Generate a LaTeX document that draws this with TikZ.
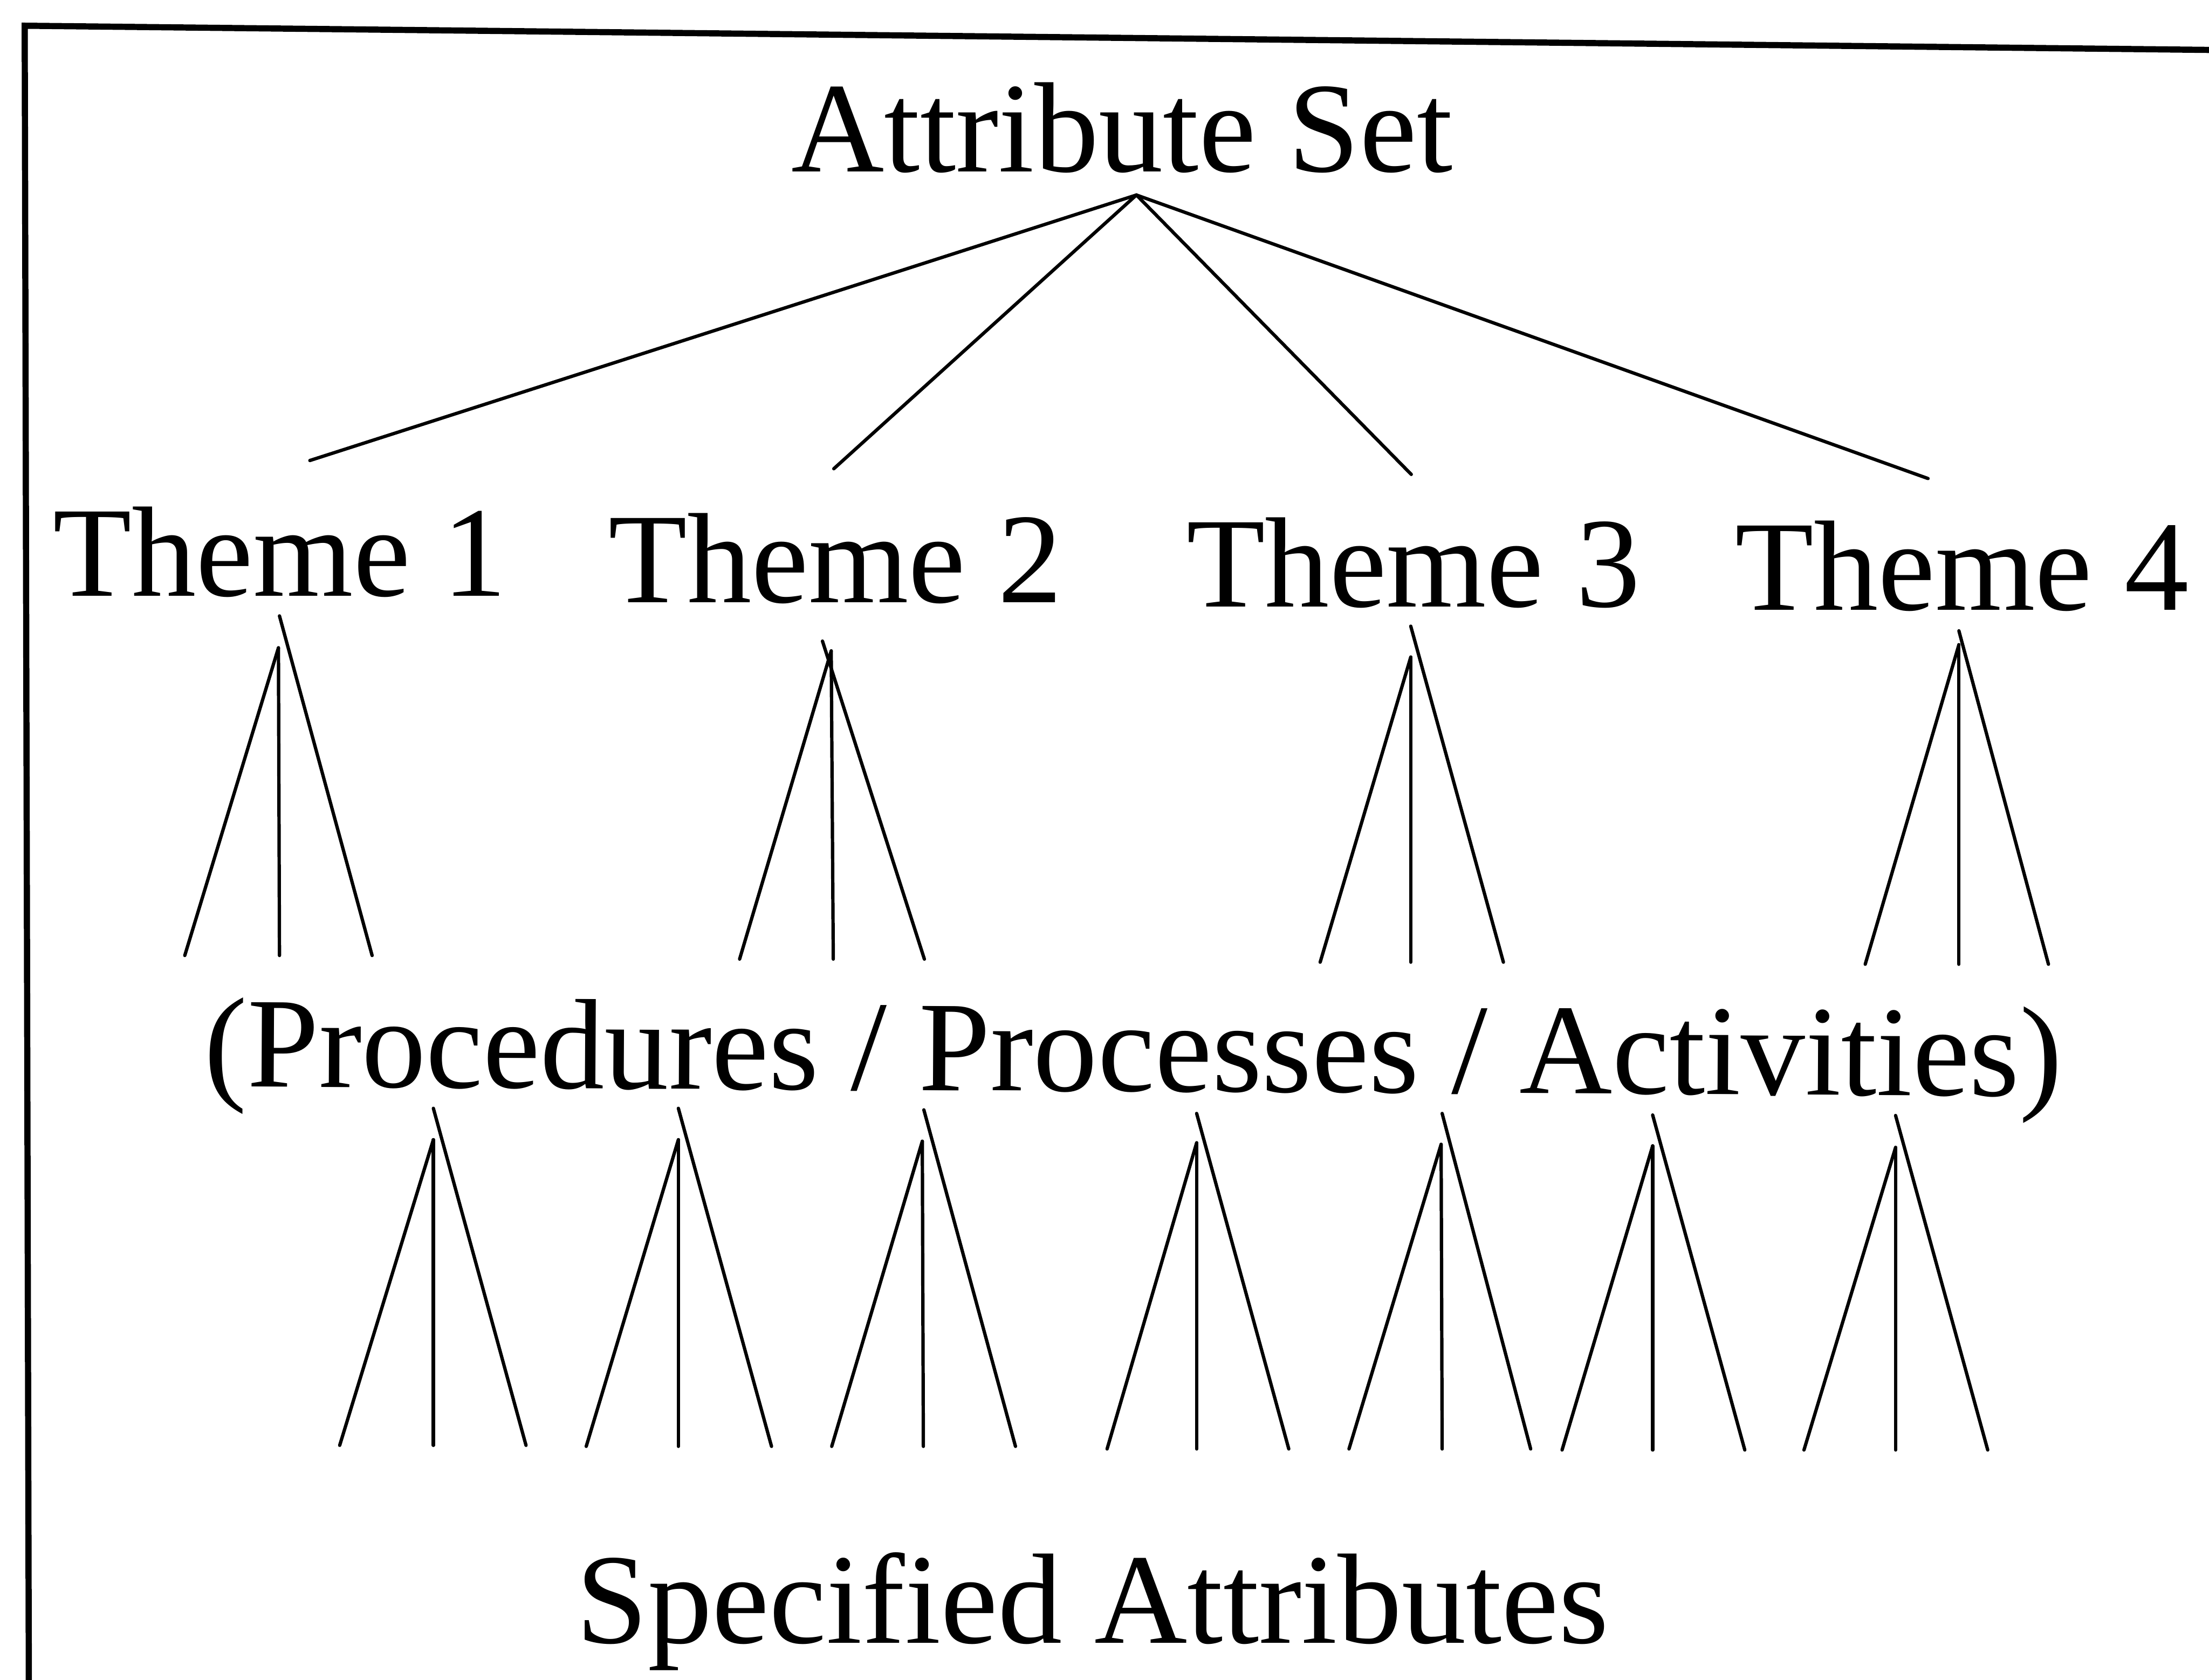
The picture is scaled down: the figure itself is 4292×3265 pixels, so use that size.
\documentclass[tikz,border=0pt]{standalone}
\usepackage{fontspec}
\setmainfont{Liberation Serif}
\begin{document}
\begin{tikzpicture}[x=0.1pt,y=-0.1pt,
  lbl/.style={anchor=base, inner sep=0pt, font=\fontsize{25}{30}\selectfont},
  link/.style={line width=0.65pt, line cap=round},
  frame/.style={line width=1.2pt, line join=miter}]
\useasboundingbox (0,0) rectangle (4292,3265);

% open frame: top and left edges only
\draw[frame] (4292,97) -- (48,50) -- (56,3265);

% labels
\node[lbl] (as) at (2180,334) {Attribute Set};
\node[lbl] (t1) at (544,1158) {Theme 1};
\node[lbl] (t2) at (1623,1171) {Theme 2};
\node[lbl] (t3) at (2746,1179) {Theme 3};
\node[lbl] (t4) at (3812,1186) {Theme 4};
\node[lbl, rotate=-0.3] (pa) at (2202,2121) {(Procedures / Processes / Activities)};
\node[lbl] (sa) at (2123,3193) {Specified Attributes};

% attribute set fans out to the four themes
\coordinate (as-ap) at (2208,379);
\coordinate (as-t1) at (602,895);
\coordinate (as-t2) at (1620,911);
\coordinate (as-t3) at (2742,922);
\coordinate (as-t4) at (3746,930);
\foreach \k in {t1,t2,t3,t4}
  \draw[link] (as-ap) -- (as-\k);

% three-pronged branches: right leg, left leg, middle stem
\foreach \n/\rx/\ry/\ax/\ay/\lx/\mx/\bx/\by in {
  th1/543/1197/541/1259/359/543/723/1857,
  th2/1598/1246/1615/1265/1437/1619/1796/1864,
  th3/2741/1217/2741/1277/2565/2741/2921/1870,
  th4/3806/1226/3806/1253/3624/3806/3980/1874,
  pr1/842/2154/842/2215/660/842/1022/2809,
  pr2/1318/2154/1318/2215/1139/1318/1499/2811,
  pr3/1795/2157/1792/2218/1616/1794/1973/2811,
  pr4/2325/2164/2325/2221/2151/2325/2504/2816,
  pr5/2802/2164/2800/2224/2621/2802/2974/2816,
  pr6/3211/2167/3211/2227/3035/3211/3390/2818,
  pr7/3683/2168/3683/2230/3505/3683/3862/2818}
{
  \coordinate (\n-rt) at (\rx,\ry);
  \coordinate (\n-ap) at (\ax,\ay);
  \coordinate (\n-lb) at (\lx,\by);
  \coordinate (\n-mb) at (\mx,\by);
  \coordinate (\n-rb) at (\bx,\by);
  \draw[link] (\n-rt) -- (\n-rb);
  \draw[link] (\n-ap) -- (\n-lb);
  \draw[link] (\n-ap) -- (\n-mb);
}
\end{tikzpicture}
\end{document}
